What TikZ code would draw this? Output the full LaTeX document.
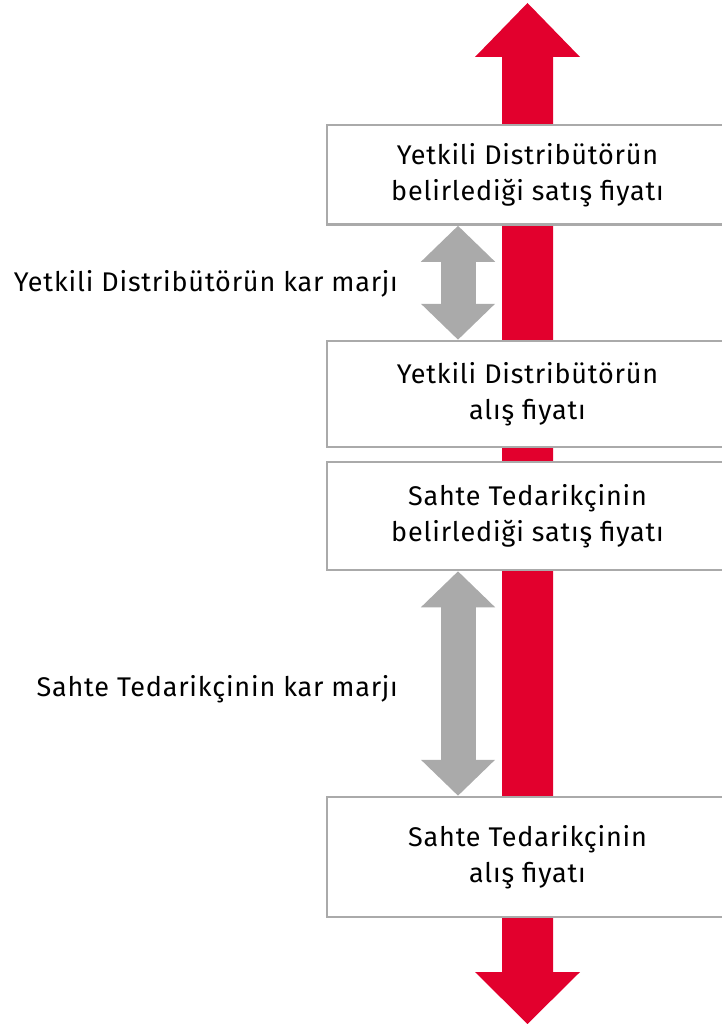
\documentclass[tikz,border=0pt]{standalone}
\usepackage{fontspec}
\setmainfont{Fira Sans}[LetterSpace=3]
\usepackage{tikz}
\usetikzlibrary{arrows.meta}

\definecolor{fakered}{HTML}{E2002D}
\definecolor{boxgray}{HTML}{AAAAAA}

\tikzset{
  pricebox/.style={draw=boxgray, line width=2.5pt, fill=white, minimum width=401pt,
    align=center, font=\fontsize{27}{36}\selectfont, inner sep=0pt},
  margin/.style={draw=boxgray, line width=35pt,
    {Triangle[width=72pt,length=36pt]}-{Triangle[width=72pt,length=36pt]}},
  marginlabel/.style={anchor=east, font=\fontsize{27}{30}\selectfont, inner sep=0pt}
}

\begin{document}
\begin{tikzpicture}[x=1pt,y=-1pt]
\useasboundingbox (0,0) rectangle (721,1024);

% red price axis
\fill[fakered] (502,57) -- (475,57) -- (527.5,3) -- (580,57) -- (553,57)
  -- (553,972) -- (580,972) -- (527.5,1024) -- (475,972) -- (502,972) -- cycle;

\node[pricebox, minimum height=99.5pt] (distsell) at (527.5,174.75) {Yetkili Distribütörün\\belirlediği satış fiyatı};
\node[pricebox, minimum height=106pt] (distbuy) at (527.5,394) {Yetkili Distribütörün\\alış fiyatı};
\node[pricebox, minimum height=108pt] (fakesell) at (527.5,516) {Sahte Tedarikçinin\\belirlediği satış fiyatı};
\node[pricebox, minimum height=120pt] (fakebuy) at (527.5,857) {Sahte Tedarikçinin\\alış fiyatı};

\coordinate (gx) at (458,0);
\draw[margin] (distsell.south -| gx) -- (distbuy.north -| gx);
\draw[margin] (fakesell.south -| gx) -- (fakebuy.north -| gx);

\node[marginlabel] (distmargin) at (398,284) {Yetkili Distribütörün kar marjı};
\node[marginlabel] (fakemargin) at (398,689) {Sahte Tedarikçinin kar marjı};
\end{tikzpicture}
\end{document}
